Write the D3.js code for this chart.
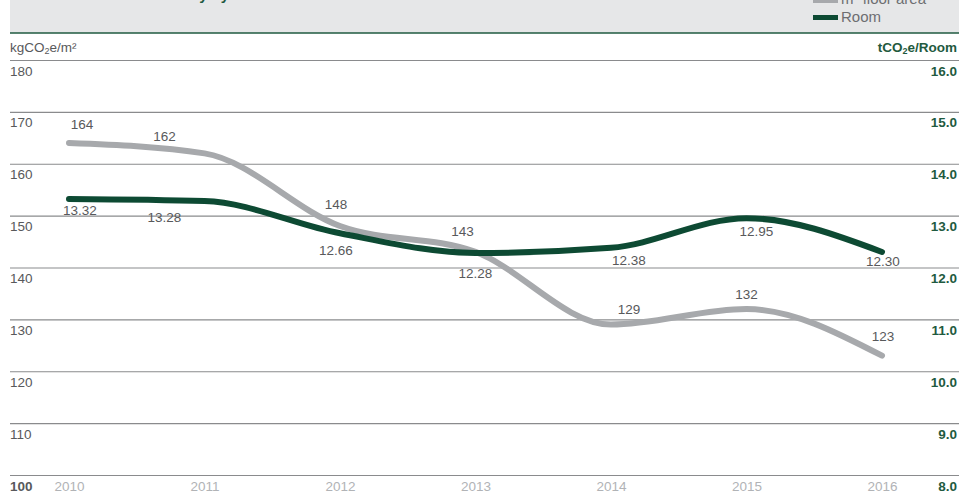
<!DOCTYPE html>
<html>
<head>
<meta charset="utf-8">
<script src="https://cdn.jsdelivr.net/npm/d3@7"></script>
<style>
  body { margin: 0; background: #fff; font-family: "Liberation Sans", Arial, sans-serif; }
  svg { display: block; }
</style>
</head>
<body>
<script>
// data
const years = [2010, 2011, 2012, 2013, 2014, 2015, 2016];
const floorArea = [164, 162, 148, 143, 129, 132, 123];
const perRoom = [13.32, 13.28, 12.66, 12.28, 12.38, 12.95, 12.30];
const leftTicks = [180, 170, 160, 150, 140, 130, 120, 110, 100];
const rightTicks = [16.0, 15.0, 14.0, 13.0, 12.0, 11.0, 10.0, 9.0, 8.0];

// label nudges (layout only)
const grayLabelShift = [[13, -14], [-40, -12], [-4, -17], [-13, -16], [18, -11], [0, -10], [1, -15]];
const greenLabelShift = [[11, 16], [-40, 21], [-4, 22], [0, 25], [18, 17], [10, 18], [1, 14]];

const width = 959;
const height = 494;
const font = "'Liberation Sans', Arial, sans-serif";
const svg = d3.select("body").append("svg").attr("width", width).attr("height", height);

//Header band
svg.append("rect").attr("x", 10).attr("y", 0).attr("width", width - 10).attr("height", 33).attr("fill", "#e6e7e8");
svg.append("line").attr("x1", 10).attr("x2", width).attr("y1", 33).attr("y2", 33)
  .attr("stroke", "#1f5a40").attr("stroke-width", 1.6);
svg.append("text").attr("x", 20).attr("y", 0).attr("font-size", 15).attr("font-weight", "bold")
  .attr("fill", "#1f5a40").text("Carbon emission intensity by source");

//Legend
const legend = svg.append("g").attr("font-size", 15).attr("fill", "#6d6e71");
legend.append("rect").attr("x", 813).attr("y", -2).attr("width", 25).attr("height", 5).attr("fill", "#a7a9ac");
legend.append("text").attr("x", 841).attr("y", 4).text("m² floor area");
legend.append("rect").attr("x", 813).attr("y", 15).attr("width", 25).attr("height", 5).attr("fill", "#0d4a33");
legend.append("text").attr("x", 841).attr("y", 22).text("Room");

//Scales
const x = d3.scalePoint().domain(years).range([69, 882]);
const yLeft = d3.scaleLinear().domain([100, 180]).range([475, 60]);
const yRight = d3.scaleLinear().domain([8, 16]).range([475, 60]);

//Unit labels
svg.append("text").attr("x", 10).attr("y", 52).attr("font-size", 13.5).attr("fill", "#58595b")
  .html('kgCO<tspan font-size="9" dy="2">2</tspan><tspan dy="-2">e/m²</tspan>');
svg.append("text").attr("x", 957).attr("y", 52).attr("text-anchor", "end").attr("font-size", 13.5)
  .attr("font-weight", "bold").attr("fill", "#1f5a40")
  .html('tCO<tspan font-size="9" dy="2">2</tspan><tspan dy="-2">e/Room</tspan>');

//Gridlines + left axis
const leftAxis = svg.append("g").attr("transform", "translate(10,0)")
  .call(d3.axisRight(yLeft).tickValues(leftTicks).tickSize(width - 10).tickFormat(d3.format("d")));
leftAxis.select(".domain").remove();
leftAxis.selectAll(".tick line").attr("stroke", "#8a8b8d").attr("stroke-width", 1.2);
leftAxis.selectAll(".tick text").attr("x", 0).attr("dy", 15).attr("text-anchor", "start")
  .attr("font-size", 13.5).attr("font-family", font)
  .attr("fill", "#58595b").attr("font-weight", (d) => (d === 100 ? "bold" : "normal"));

//Right axis
const rightAxis = svg.append("g").attr("transform", "translate(957,0)")
  .call(d3.axisLeft(yRight).tickValues(rightTicks).tickSize(0).tickFormat(d3.format(".1f")));
rightAxis.select(".domain").remove();
rightAxis.selectAll(".tick text").attr("x", 0).attr("dy", 15).attr("text-anchor", "end")
  .attr("font-size", 13.5).attr("font-weight", "bold")
  .attr("font-family", font).attr("fill", "#1f5a40");

//Year axis
const xAxis = svg.append("g").attr("transform", "translate(0,475)")
  .call(d3.axisBottom(x).tickSize(0));
xAxis.select(".domain").remove();
xAxis.selectAll(".tick text").attr("dy", 13).attr("font-size", 13.5)
  .attr("font-family", font).attr("fill", "#b1b3b6");

//Lines
const grayLine = d3.line().x((d, i) => x(years[i])).y((d) => yLeft(d)).curve(d3.curveMonotoneX);
const greenLine = d3.line().x((d, i) => x(years[i])).y((d) => yRight(d)).curve(d3.curveMonotoneX);

svg.append("path").datum(floorArea).attr("d", grayLine).attr("fill", "none")
  .attr("stroke", "#a7a9ac").attr("stroke-width", 6).attr("stroke-linecap", "round");
svg.append("path").datum(perRoom).attr("d", greenLine).attr("fill", "none")
  .attr("stroke", "#0d4a33").attr("stroke-width", 6).attr("stroke-linecap", "round");

//Value labels
svg.selectAll(".lbl-gray").data(floorArea).enter().append("text")
  .attr("class", "lbl-gray")
  .attr("x", (d, i) => x(years[i]) + grayLabelShift[i][0])
  .attr("y", (d, i) => yLeft(d) + grayLabelShift[i][1])
  .attr("text-anchor", "middle").attr("font-size", 13.5).attr("fill", "#58595b")
  .text((d) => d);

svg.selectAll(".lbl-green").data(perRoom).enter().append("text")
  .attr("class", "lbl-green")
  .attr("x", (d, i) => x(years[i]) + greenLabelShift[i][0])
  .attr("y", (d, i) => yRight(d) + greenLabelShift[i][1])
  .attr("text-anchor", "middle").attr("font-size", 13.5).attr("fill", "#58595b")
  .text((d) => d.toFixed(2));
</script>
</body>
</html>
